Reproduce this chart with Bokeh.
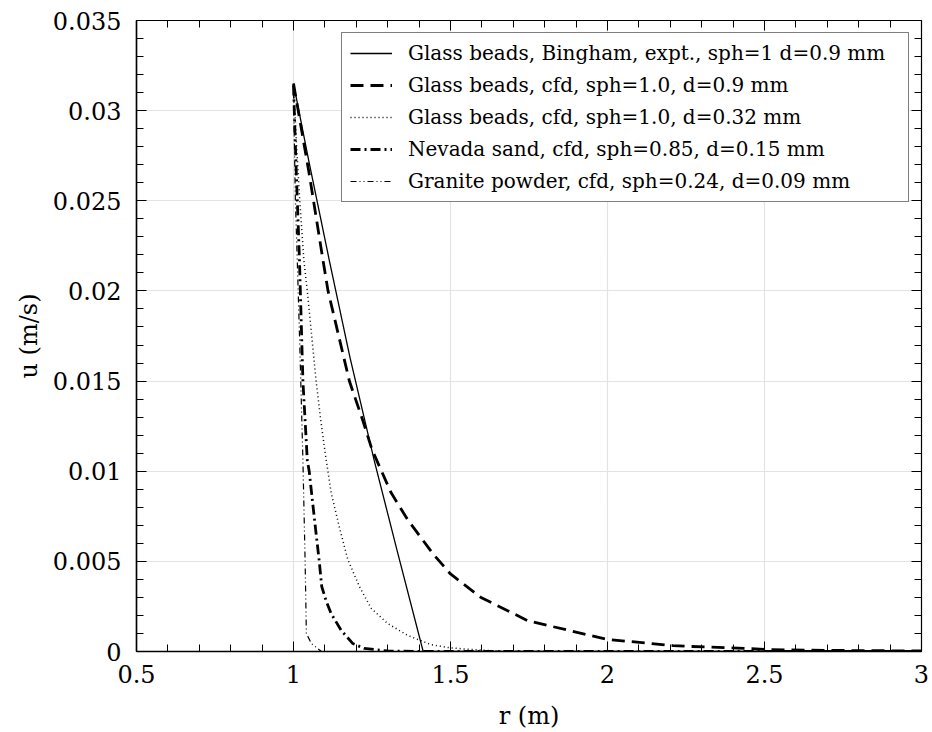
from bokeh.plotting import figure
from bokeh.models import LinearAxis, Range1d, SingleIntervalTicker, Legend, LegendItem, CustomLabelingPolicy
from bokeh.embed import file_html
from bokeh.resources import INLINE

# Data
r_bingham = [1.0, 1.05, 1.114, 1.18, 1.257, 1.33, 1.413, 3.0]
u_bingham = [0.0315, 0.0271, 0.0217, 0.0163, 0.0106, 0.0056, 0.0, 0.0]

r_cfd09 = [1.0, 1.05, 1.094, 1.11, 1.178, 1.221, 1.25, 1.311, 1.364, 1.445, 1.5,
           1.597, 1.747, 2.0, 2.208, 2.265, 2.446, 2.52, 2.7, 3.0]
u_cfd09 = [0.0315, 0.0265, 0.0217, 0.02, 0.015, 0.0128, 0.0112, 0.0088, 0.0073, 0.0054, 0.0043,
           0.0030, 0.0017, 0.00067, 0.00033, 0.00028, 0.00017, 0.0001, 0.00006, 0.00003]

r_cfd032 = [1.0, 1.01, 1.02, 1.033, 1.044, 1.058, 1.072, 1.087, 1.101, 1.12, 1.146, 1.173,
            1.21, 1.247, 1.30, 1.364, 1.438, 1.5, 1.575, 1.65, 1.8, 3.0]
u_cfd032 = [0.0314, 0.028, 0.025, 0.0217, 0.02, 0.0175, 0.015, 0.0128, 0.011, 0.0088, 0.0069, 0.0051,
            0.0036, 0.0024, 0.00155, 0.00089, 0.00038, 0.0002, 0.0001, 0.00003, 0.0, 0.0]

r_nevada = [1.0, 1.008, 1.019, 1.030, 1.044, 1.05, 1.067, 1.082, 1.09, 1.104, 1.12, 1.152,
            1.189, 1.225, 1.3, 1.4, 3.0]
u_nevada = [0.0314, 0.027, 0.0217, 0.015, 0.0106, 0.01, 0.0073, 0.005, 0.0036, 0.0028, 0.0021, 0.00117,
            0.00044, 0.00017, 0.00003, 0.0, 0.0]

r_granite = [1.0, 1.006, 1.012, 1.02, 1.03, 1.037, 1.041, 1.057, 1.089, 3.0]
u_granite = [0.031, 0.025, 0.0217, 0.017, 0.0106, 0.005, 0.001, 0.00044, 0.0, 0.0]

labels = [
    "Glass beads, Bingham, expt., sph=1 d=0.9 mm",
    "Glass beads, cfd, sph=1.0, d=0.9 mm",
    "Glass beads, cfd, sph=1.0, d=0.32 mm",
    "Nevada sand, cfd, sph=0.85, d=0.15 mm",
    "Granite powder, cfd, sph=0.24, d=0.09 mm",
]

FONT = "DejaVu Serif"

p = figure(frame_width=785, frame_height=631, output_backend="svg", toolbar_location=None,
           x_range=Range1d(0.5, 3.0), y_range=Range1d(0.0, 0.035))
p.min_border_left = 136
p.min_border_right = 11
p.min_border_top = 20
p.min_border_bottom = 81
p.background_fill_color = "white"
p.border_fill_color = "white"
p.outline_line_color = "black"
p.outline_line_width = 1.2

xt = SingleIntervalTicker(interval=0.5, num_minor_ticks=5)
yt = SingleIntervalTicker(interval=0.005, num_minor_ticks=5)
p.xaxis.ticker = xt
p.yaxis.ticker = yt
p.xgrid.ticker = xt
p.ygrid.ticker = yt
p.grid.grid_line_color = "#e3e3e3"
p.grid.grid_line_width = 1.2

p.xaxis.axis_label = "r (m)"
p.yaxis.axis_label = "u (m/s)"

for ax in [p.xaxis[0], p.yaxis[0]]:
    ax.major_label_text_font = FONT
    ax.major_label_text_font_size = "24px"
    ax.major_label_text_color = "black"
    ax.axis_label_text_font = FONT
    ax.axis_label_text_font_size = "24px"
    ax.axis_label_text_font_style = "normal"
    ax.axis_label_text_color = "black"
    ax.axis_line_color = "black"
    ax.axis_line_width = 1.5
    ax.major_tick_in = 10
    ax.major_tick_out = 0
    ax.minor_tick_in = 7
    ax.minor_tick_out = 0
    ax.major_tick_line_color = "black"
    ax.minor_tick_line_color = "black"

p.xaxis[0].major_label_standoff = 13
p.xaxis[0].axis_label_standoff = 16
p.yaxis[0].major_label_standoff = 15
p.yaxis[0].axis_label_standoff = 7
p.yaxis[0].major_label_orientation = "horizontal"

no_labels = CustomLabelingPolicy(code="""
for (let i = 0; i < indices.size; i++) { indices.unset(i) }
return indices
""")

# mirrored axes (ticks only)
for loc, tk in [("right", yt), ("above", xt)]:
    ax = LinearAxis(ticker=tk)
    ax.major_label_policy = no_labels
    ax.major_label_standoff = 0
    ax.major_tick_in = 10
    ax.major_tick_out = 0
    ax.minor_tick_in = 7
    ax.minor_tick_out = 0
    ax.axis_line_color = "black"
    ax.major_tick_line_color = "black"
    ax.minor_tick_line_color = "black"
    p.add_layout(ax, loc)

r1 = p.line(r_bingham, u_bingham, line_color="black", line_width=1.3)
r2 = p.line(r_cfd09, u_cfd09, line_color="black", line_width=2.8, line_dash="13 7")
r3 = p.line(r_cfd032, u_cfd032, line_color="black", line_width=1.5, line_dash="1 3")
r4 = p.line(r_nevada, u_nevada, line_color="black", line_width=2.8, line_dash="10 4 2 4")
r5 = p.line(r_granite, u_granite, line_color="black", line_width=1.2, line_dash="6 3 1 3 1 3")

items = [LegendItem(label=l, renderers=[r]) for l, r in zip(labels, [r1, r2, r3, r4, r5])]
legend = Legend(items=items, location="top_right")
legend.label_text_font = FONT
legend.label_text_font_size = "20px"
legend.label_text_color = "black"
legend.border_line_color = "black"
legend.border_line_width = 1.2
legend.background_fill_alpha = 1.0
legend.margin = 12
legend.padding = 8
legend.glyph_width = 42
legend.glyph_height = 22
legend.label_height = 22
legend.label_width = 492
legend.label_standoff = 16
legend.spacing = 8
p.add_layout(legend, "center")

open("out.html", "w").write(file_html(p, INLINE))
